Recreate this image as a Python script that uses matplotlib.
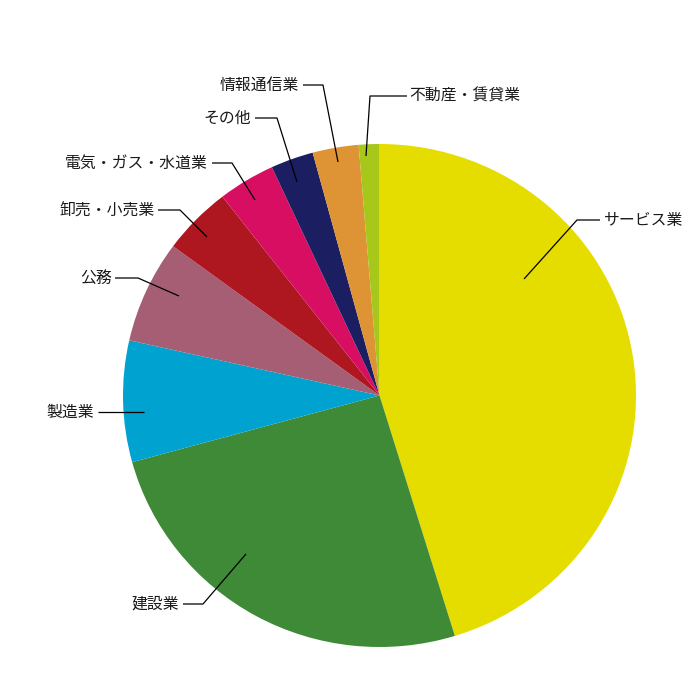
import matplotlib
matplotlib.use("Agg")
import matplotlib.pyplot as plt

plt.rcParams['font.family'] = ['Noto Sans CJK JP', 'DejaVu Sans']

categories = ["サービス業", "建設業", "製造業", "公務", "卸売・小売業",
              "電気・ガス・水道業", "その他", "情報通信業", "不動産・賃貸業"]
values = [45.3, 25.5, 7.8, 6.6, 4.4, 3.6, 2.7, 2.9, 1.3]
colors = ["#E5DC00", "#3E8A37", "#00A3D0", "#A65E74", "#AE1620",
          "#D80E63", "#1B1F62", "#DE9334", "#A7C81B"]

# leader layout in pixel space: (end point in slice, elbow, horizontal end, text x, align)
CX, CY, RX, RY = 379.5, 395.5, 256.5, 251.5
leaders = [
    ((524, 279), (577, 220), (600, 220), 604, "left"),
    ((246, 554), (203, 604), (183, 604), 179, "right"),
    ((144, 412), (144, 412), (98, 412), 94, "right"),
    ((179, 296), (138, 278), (115, 278), 112, "right"),
    ((207, 237), (180, 210), (158, 210), 155, "right"),
    ((255, 200), (232, 163), (212, 163), 208, "right"),
    ((297, 182), (277, 118), (255, 118), 251, "right"),
    ((338, 162), (323, 85), (303, 85), 299, "right"),
    ((366, 156), (370, 96), (407, 96), 409, "left"),
]


def d(px, py):
    return ((px - CX) / RX, (CY - py) / RY)


fig = plt.figure(figsize=(7, 7), dpi=100)
ax = fig.add_axes([0, 0, 1, 1])
ax.pie(values, colors=colors, startangle=90, counterclock=False, radius=1.0,
       center=(0, 0), wedgeprops=dict(linewidth=0))
ax.set_aspect('auto')
ax.set_xlim(-CX / RX, (700 - CX) / RX)
ax.set_ylim((CY - 700) / RY, CY / RY)
ax.axis('off')

for cat, (p0, p1, p2, tx, ha) in zip(categories, leaders):
    xs, ys = zip(d(*p0), d(*p1), d(*p2))
    ax.plot(xs, ys, color="black", linewidth=0.9, solid_capstyle='butt')
    x, y = d(tx, p2[1])
    ax.text(x, y, cat, ha=ha, va="center", fontsize=11.4, color="#1a1a1a")

fig.savefig("out.png", dpi=100)
